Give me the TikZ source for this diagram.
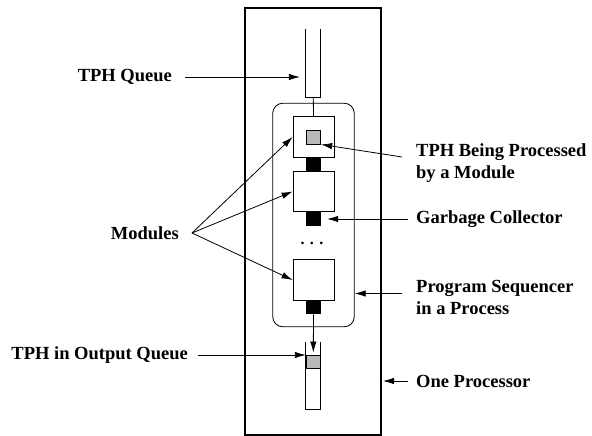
\documentclass[tikz,border=0pt]{standalone}
\usepackage{fontspec}
\setmainfont{Liberation Serif}
\usetikzlibrary{arrows.meta}
\begin{document}
\begin{tikzpicture}[x=1pt,y=-1pt,
  lbl/.style={font=\fontsize{18.5}{21.5}\selectfont\bfseries, inner sep=0pt, align=left},
  arr/.style={line width=0.8pt, -{Latex[length=11pt,width=6.5pt]}},
  thin/.style={line width=0.8pt},
  modbox/.style={draw, line width=0.8pt, minimum width=41pt, minimum height=40.5pt, inner sep=0pt},
  blk/.style={fill=black, minimum width=15pt, minimum height=13.5pt, inner sep=0pt},
  graysq/.style={draw, line width=0.8pt, fill=gray!55, minimum width=14.5pt, minimum height=13.5pt, inner sep=0pt}]
\useasboundingbox (0,0) rectangle (592,436);
% processor
\node[draw, line width=2pt, minimum width=136pt, minimum height=427pt, inner sep=0pt] (proc) at (313,221.5) {};
% program sequencer
\node[draw, thin, rounded corners=10pt, minimum width=81.5pt, minimum height=223.5pt, inner sep=0pt] (seq) at (313.5,215) {};
% modules
\node[modbox] (m1) at (313.5,137) {};
\node[graysq] (g1) at (313.5,137.3) {};
\node[blk] (b1) at (313.5,164.5) {};
\node[modbox] (m2) at (313.5,191.5) {};
\node[blk] (b2) at (313.5,219) {};
\node[modbox] (m3) at (313.5,280) {};
\node[blk] (b3) at (313.5,307.5) {};
\node[inner sep=0pt, font=\fontsize{16}{18}\selectfont\bfseries] (dots) at (312,243) {.\,\,.\,\,.};
% input queue
\node[inner sep=0pt, minimum width=14.5pt, minimum height=68pt] (q1) at (313.3,63) {};
\draw[thin] (q1.north west) -- (q1.south west) -- (q1.south east) -- (q1.north east);
\draw[thin] (q1.south) -- (m1.north);
% output queue
\node[inner sep=0pt, minimum width=14.5pt, minimum height=67.5pt] (q2) at (313.3,375.5) {};
\node[graysq, minimum height=13pt] (g2) at (313.3,361.5) {};
\draw[thin] (q2.north west) -- (q2.south west) -- (q2.south east) -- (q2.north east);
\draw[arr] (b3.south) -- ([yshift=-11pt]q2.north);
% labels
\node[lbl, anchor=east] (tq) at (172,77) {TPH Queue};
\node[lbl, anchor=west] (tbp) at (416,163) {TPH Being Processed\\by a Module};
\node[lbl, anchor=west] (gc) at (416,219) {Garbage Collector};
\node[lbl, anchor=west] (ps) at (416,297.5) {Program Sequencer\\in a Process};
\node[lbl, anchor=west] (op) at (416,381) {One Processor};
\node[lbl, anchor=east] (mods) at (179,233) {Modules};
\node[lbl, anchor=east] (toq) at (188,355) {TPH in Output Queue};
% arrows
\draw[arr] ([xshift=13pt]tq.east) -- ([xshift=-6pt]q1.west |- tq.east);
\draw[arr] (402,157) -- (g1.south east);
\draw[arr] (408,219) -- ([xshift=6pt]b2.east);
\draw[arr] (402,293.5) -- (seq.east |- 0,293.5);
\draw[arr] (408,381) -- ([xshift=1pt]proc.east |- 0,381);
\coordinate (mp) at (192,233);
\draw[arr] (mp) -- (m1.west);
\draw[arr] (mp) -- (m2.west);
\draw[arr] (mp) -- (m3.west);
\draw[arr] ([xshift=10pt]toq.east) -- (q2.west |- toq.east);
\end{tikzpicture}
\end{document}
